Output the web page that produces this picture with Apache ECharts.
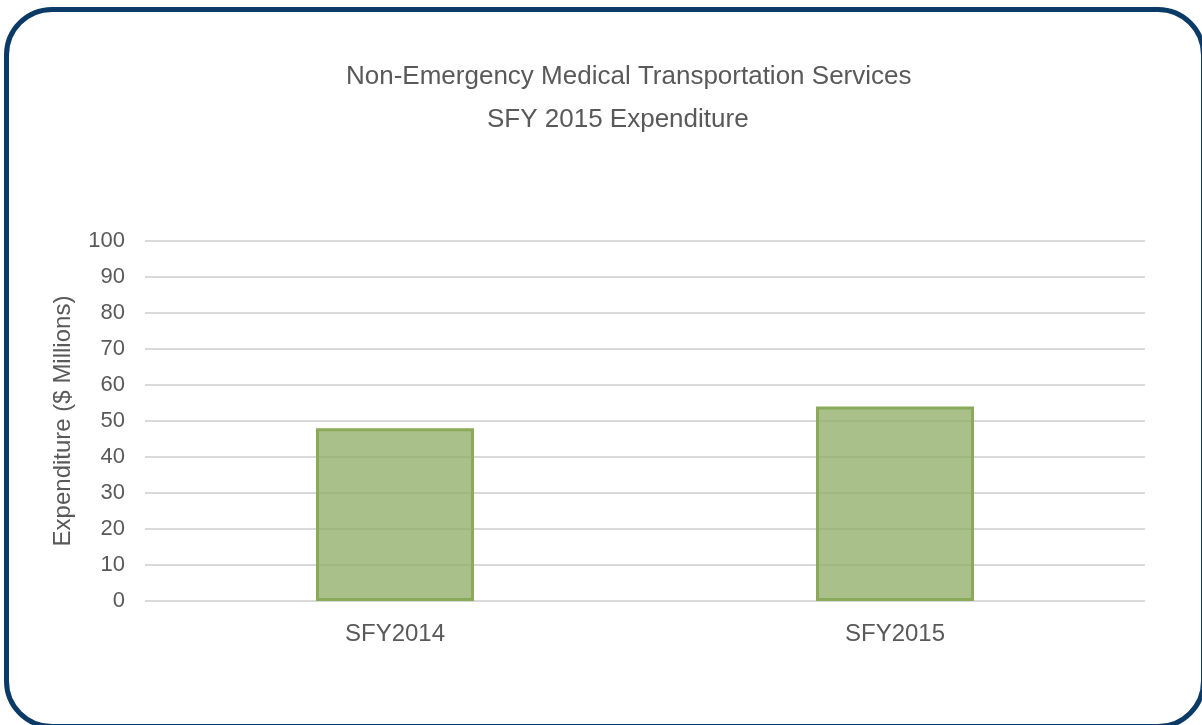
<!DOCTYPE html>
<html>
<head>
<meta charset="utf-8">
<script src="https://cdn.jsdelivr.net/npm/echarts@6/dist/echarts.min.js"></script>
<style>
  html, body { margin: 0; padding: 0; background: #fff; }
  #wrap { position: relative; width: 1202px; height: 725px; overflow: hidden; }
  #chart { position: absolute; left: 0; top: 0; width: 1202px; height: 725px; }
  #frame {
    position: absolute; left: 4px; top: 7px; width: 1192px; height: 712px;
    border: 5px solid #0b3a66; border-radius: 48px; pointer-events: none;
  }
</style>
</head>
<body>
<div id="wrap">
  <div id="chart"></div>
  <div id="frame"></div>
</div>
<script>
// 数据
let categories = ['SFY2014', 'SFY2015']
let expenditure = [48, 54] // $ Millions
let titleLines = ['Non-Emergency Medical Transportation Services', 'SFY 2015 Expenditure']

let textColor = '#595959'
let font = 'Liberation Sans, Arial, sans-serif'

let titleStyle = {
  color: textColor,
  fontFamily: font,
  fontSize: 26,
  fontWeight: 'normal',
}

let option = {
  animation: false,
  // 两行标题分开放，中心略偏右
  title: [
    { text: titleLines[0], left: 346, top: 64, padding: 0, textStyle: titleStyle },
    { text: titleLines[1], left: 487, top: 107, padding: 0, textStyle: titleStyle },
  ],
  grid: {
    left: 145,
    right: 57,
    top: 241,
    bottom: 124,
  },
  xAxis: {
    type: 'category',
    data: categories,
    axisLine: { show: false },
    axisTick: { show: false },
    axisLabel: {
      color: textColor,
      fontFamily: font,
      fontSize: 24,
      margin: 21,
    },
  },
  yAxis: {
    type: 'value',
    min: 0,
    max: 100,
    interval: 10,
    name: 'Expenditure ($ Millions)',
    nameLocation: 'middle',
    nameGap: 70,
    nameTextStyle: {
      color: textColor,
      fontFamily: font,
      fontSize: 24,
    },
    axisLine: { show: false },
    axisTick: { show: false },
    axisLabel: {
      color: textColor,
      fontFamily: font,
      fontSize: 22,
      margin: 20,
    },
    splitLine: {
      lineStyle: { color: '#d9d9d9', width: 2 },
    },
  },
  series: [
    {
      type: 'bar',
      data: expenditure,
      barWidth: '31.6%',
      itemStyle: {
        color: 'rgba(140,171,99,0.75)',
        borderColor: '#8aaa5a',
        borderWidth: 3,
      },
    },
  ],
}

let myChart = echarts.init(document.getElementById('chart'))
myChart.setOption(option)
</script>
</body>
</html>
